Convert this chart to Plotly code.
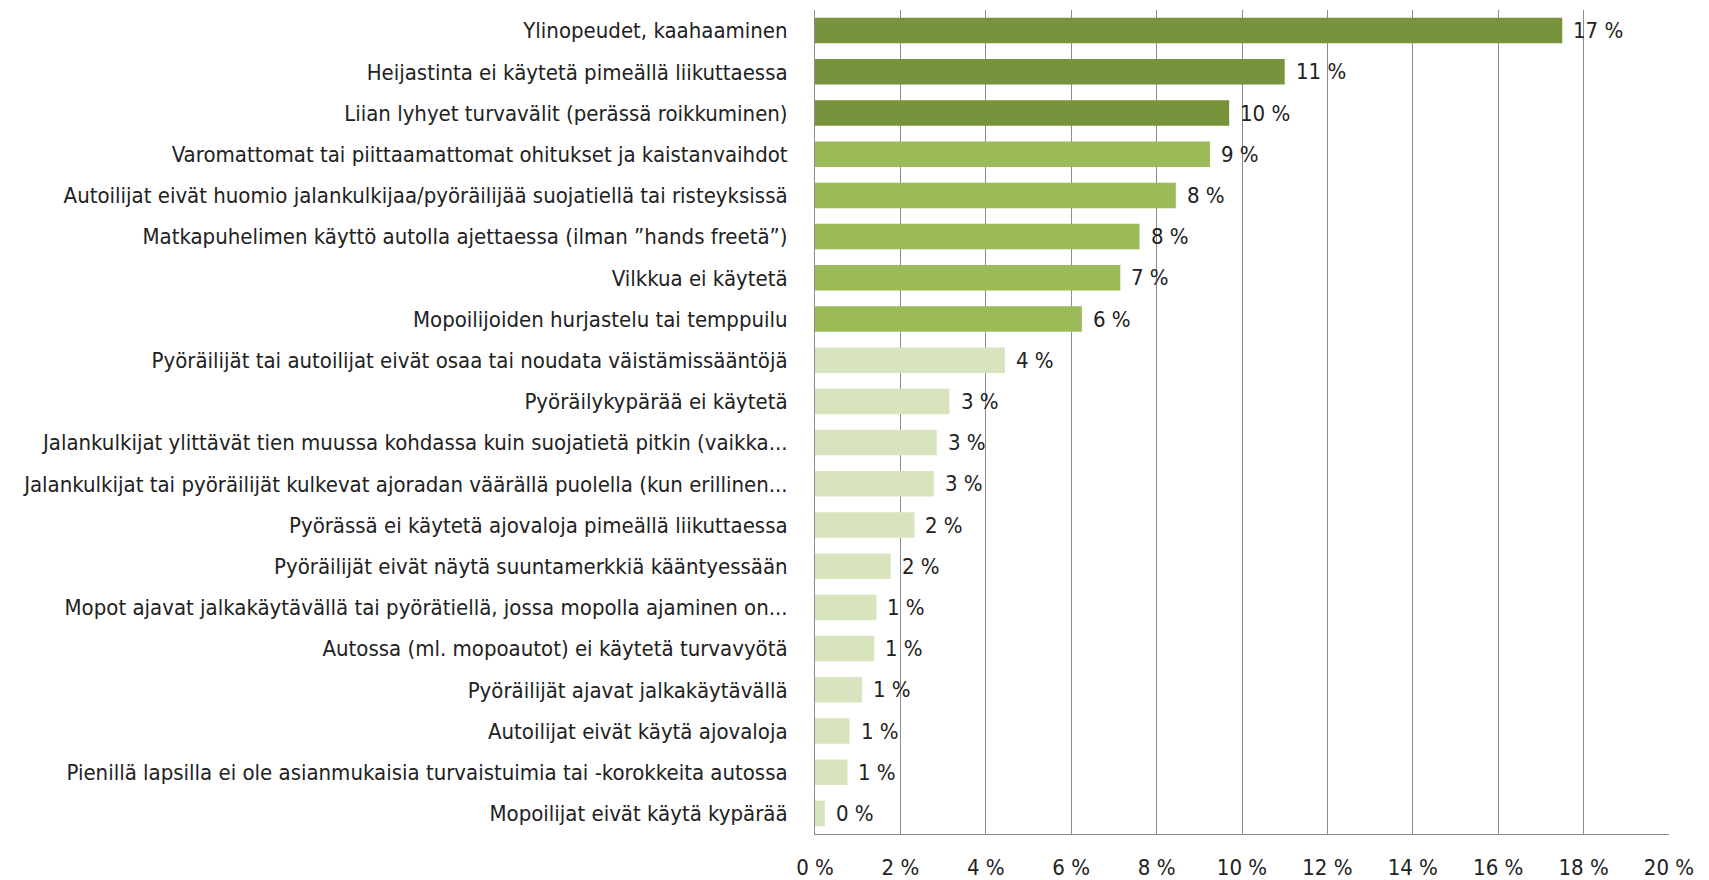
import plotly.graph_objects as go

categories = [
    "Ylinopeudet, kaahaaminen",
    "Heijastinta ei käytetä pimeällä liikuttaessa",
    "Liian lyhyet turvavälit (perässä roikkuminen)",
    "Varomattomat tai piittaamattomat ohitukset ja kaistanvaihdot",
    "Autoilijat eivät huomio jalankulkijaa/pyöräilijää suojatiellä tai risteyksissä",
    "Matkapuhelimen käyttö autolla ajettaessa (ilman ”hands freetä”)",
    "Vilkkua ei käytetä",
    "Mopoilijoiden hurjastelu tai temppuilu",
    "Pyöräilijät tai autoilijat eivät osaa tai noudata väistämissääntöjä",
    "Pyöräilykypärää ei käytetä",
    "Jalankulkijat ylittävät tien muussa kohdassa kuin suojatietä pitkin (vaikka...",
    "Jalankulkijat tai pyöräilijät kulkevat ajoradan väärällä puolella (kun erillinen...",
    "Pyörässä ei käytetä ajovaloja pimeällä liikuttaessa",
    "Pyöräilijät eivät näytä suuntamerkkiä kääntyessään",
    "Mopot ajavat jalkakäytävällä tai pyörätiellä, jossa mopolla ajaminen on...",
    "Autossa (ml. mopoautot) ei käytetä turvavyötä",
    "Pyöräilijät ajavat jalkakäytävällä",
    "Autoilijat eivät käytä ajovaloja",
    "Pienillä lapsilla ei ole asianmukaisia turvaistuimia tai -korokkeita autossa",
    "Mopoilijat eivät käytä kypärää",
]
values = [17.5, 11.0, 9.7, 9.25, 8.45, 7.6, 7.15, 6.25, 4.45, 3.15, 2.85, 2.78,
          2.33, 1.77, 1.44, 1.39, 1.1, 0.81, 0.76, 0.23]
value_labels = ["17 %", "11 %", "10 %", "9 %", "8 %", "8 %", "7 %", "6 %", "4 %", "3 %",
                "3 %", "3 %", "2 %", "2 %", "1 %", "1 %", "1 %", "1 %", "1 %", "0 %"]
groups = ["top"] * 3 + ["mid"] * 5 + ["low"] * 12
tick_vals = [0, 2, 4, 6, 8, 10, 12, 14, 16, 18, 20]
tick_text = ["0 %", "2 %", "4 %", "6 %", "8 %", "10 %", "12 %", "14 %", "16 %", "18 %", "20 %"]

palette = {"top": "#77933C", "mid": "#9BBB59", "low": "#D7E4BD"}
font_family = "Liberation Sans Narrow, DejaVu Sans Condensed, sans-serif"

fig = go.Figure(go.Bar(
    x=values, y=categories, orientation="h",
    marker=dict(color=[palette[g] for g in groups], line=dict(width=0)),
    hoverinfo="skip",
))

# data labels
for c, v, t in zip(categories, values, value_labels):
    fig.add_annotation(x=v, y=c, text=t, showarrow=False, xanchor="left",
                       xshift=9, font=dict(size=22, color="#222222", family=font_family))

# page body has an 8px margin, so the figure is a bit smaller and shifted
fig.update_layout(
    width=1701, height=872,
    margin=dict(l=807, r=40, t=2, b=46),
    paper_bgcolor="white", plot_bgcolor="white",
    bargap=0.38, showlegend=False,
    font=dict(family=font_family, size=22, color="#222222"),
)
fig.update_xaxes(
    range=[0, 20], tickvals=tick_vals, ticktext=tick_text,
    showgrid=True, gridcolor="#8c8c8c", gridwidth=1,
    showline=True, linecolor="#8c8c8c", linewidth=1,
    zeroline=False, ticks="", ticklabelstandoff=14, automargin=False,
    tickfont=dict(size=22),
)
fig.update_yaxes(
    autorange="reversed", showline=True, linecolor="#8c8c8c", linewidth=1,
    showgrid=False, ticks="", ticklabelstandoff=22, automargin=False,
    tickfont=dict(size=22),
)

fig.write_html("out.html")
